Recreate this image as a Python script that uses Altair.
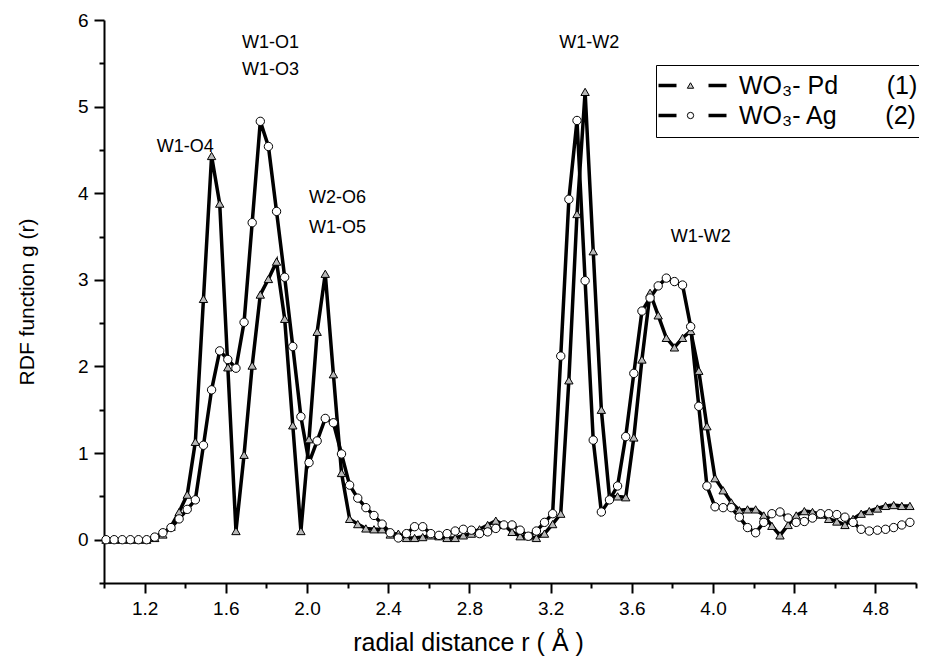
import altair as alt
import pandas as pd

FONT = "Liberation Sans"

r = [1.01, 1.05, 1.09, 1.13, 1.17, 1.21, 1.25, 1.29, 1.33, 1.37,
     1.41, 1.45, 1.49, 1.53, 1.57, 1.61, 1.65, 1.69, 1.73, 1.77,
     1.81, 1.85, 1.89, 1.93, 1.97, 2.01, 2.05, 2.09, 2.13, 2.17,
     2.21, 2.25, 2.29, 2.33, 2.37, 2.41, 2.45, 2.49, 2.53, 2.57,
     2.61, 2.65, 2.69, 2.73, 2.77, 2.81, 2.85, 2.89, 2.93, 2.97,
     3.01, 3.05, 3.09, 3.13, 3.17, 3.21, 3.25, 3.29, 3.33, 3.37,
     3.41, 3.45, 3.49, 3.53, 3.57, 3.61, 3.65, 3.69, 3.73, 3.77,
     3.81, 3.85, 3.89, 3.93, 3.97, 4.01, 4.05, 4.09, 4.13, 4.17,
     4.21, 4.25, 4.29, 4.33, 4.37, 4.41, 4.45, 4.49, 4.53, 4.57,
     4.61, 4.65, 4.69, 4.73, 4.77, 4.81, 4.85, 4.89, 4.93, 4.97]

g_pd = [0, 0, 0, 0, 0, 0, 0.02, 0.06, 0.15, 0.32,
        0.52, 1.13, 2.78, 4.43, 3.88, 1.99, 0.10, 0.98, 2.01, 2.83,
        3.01, 3.21, 2.55, 1.32, 0.10, 1.16, 2.40, 3.07, 1.91, 0.77,
        0.24, 0.18, 0.13, 0.12, 0.12, 0.06, 0.07, 0.02, 0.02, 0.03,
        0.05, 0.04, 0.02, 0.02, 0.05, 0.07, 0.12, 0.17, 0.22, 0.17,
        0.09, 0.04, 0.04, 0.02, 0.07, 0.18, 0.30, 1.84, 3.76, 5.17,
        3.33, 1.50, 0.49, 0.50, 0.49, 1.18, 2.08, 2.85, 2.59, 2.33,
        2.22, 2.33, 2.41, 1.95, 1.31, 0.71, 0.57, 0.43, 0.34, 0.35,
        0.35, 0.28, 0.16, 0.05, 0.17, 0.28, 0.33, 0.32, 0.29, 0.24,
        0.21, 0.17, 0.24, 0.30, 0.33, 0.36, 0.39, 0.40, 0.39, 0.39]

g_ag = [0, 0, 0, 0, 0, 0, 0.03, 0.08, 0.14, 0.24,
        0.35, 0.46, 1.09, 1.73, 2.18, 2.08, 1.98, 2.51, 3.66, 4.83,
        4.54, 3.79, 3.03, 2.23, 1.42, 0.89, 1.14, 1.40, 1.35, 0.99,
        0.63, 0.48, 0.37, 0.28, 0.18, 0.08, 0.02, 0.07, 0.15, 0.15,
        0.07, 0.05, 0.07, 0.10, 0.12, 0.11, 0.07, 0.09, 0.13, 0.17,
        0.17, 0.11, 0.04, 0.10, 0.20, 0.30, 2.12, 3.93, 4.84, 2.99,
        1.15, 0.32, 0.46, 0.62, 1.19, 1.92, 2.64, 2.79, 2.93, 3.02,
        2.98, 2.94, 2.46, 1.54, 0.62, 0.38, 0.37, 0.37, 0.26, 0.14,
        0.08, 0.20, 0.30, 0.32, 0.25, 0.20, 0.21, 0.25, 0.30, 0.30,
        0.29, 0.26, 0.20, 0.12, 0.10, 0.11, 0.12, 0.14, 0.17, 0.20]

NB = "\u00a0"
LAB_PD = "WO\u2083- Pd" + NB * 7 + "(1)" + NB * 3
LAB_AG = "WO\u2083- Ag" + NB * 7 + "(2)" + NB * 3
series = [LAB_PD, LAB_AG]
marker_keys = ["Pd", "Ag"]
legend_marker_keys = ["Pd marker", "Ag marker"]

x_ticks = [1.0, 1.2, 1.4, 1.6, 1.8, 2.0, 2.2, 2.4, 2.6, 2.8, 3.0,
           3.2, 3.4, 3.6, 3.8, 4.0, 4.2, 4.4, 4.6, 4.8, 5.0]
y_ticks = [-0.5, 0, 0.5, 1, 1.5, 2, 2.5, 3, 3.5, 4, 4.5, 5, 5.5, 6]

ann_text = ["W1-O4", "W1-O1", "W1-O3", "W2-O6", "W1-O5", "W1-W2", "W1-W2"]
ann_x = [1.40, 1.82, 1.82, 2.15, 2.15, 3.39, 3.94]
ann_y = [4.53, 5.73, 5.42, 3.94, 3.60, 5.73, 3.49]

df = pd.DataFrame({
    "r": r + r,
    "g": g_pd + g_ag,
    "s1": [series[0]] * len(r) + [series[1]] * len(r),
    "s2": [marker_keys[0]] * len(r) + [marker_keys[1]] * len(r),
    "s3": [legend_marker_keys[0]] * len(r) + [legend_marker_keys[1]] * len(r),
})
ann = pd.DataFrame({"x": ann_x, "y": ann_y, "t": ann_text})

major_x = "abs((datum.value - 1.2) / 0.4 - round((datum.value - 1.2) / 0.4)) < 0.01"
major_y = "abs(datum.value - round(datum.value)) < 0.01"

x_enc = alt.X("r:Q", scale=alt.Scale(domain=[1, 5], nice=False, zero=False),
              axis=alt.Axis(values=x_ticks, grid=False, domainColor="black", domainWidth=2,
                            tickColor="black", tickWidth=2,
                            tickSize={"condition": {"test": major_x, "value": 10}, "value": 5},
                            labelExpr=f"{major_x} ? format(datum.value, '.1f') : ''",
                            labelFont=FONT, labelFontSize=19, labelColor="black",
                            labelPadding=6, labelOverlap=False, labelFlush=False,
                            title="radial distance  r ( \u00c5 )", titleFont=FONT,
                            titleFontSize=25, titleFontWeight="normal", titleColor="black",
                            titleX=364, titleY=59, titleBaseline="middle", titleAlign="center"))
y_enc = alt.Y("g:Q", scale=alt.Scale(domain=[-0.5, 6], nice=False, zero=False),
              axis=alt.Axis(values=y_ticks, grid=False, domainColor="black", domainWidth=2,
                            tickColor="black", tickWidth=2,
                            tickSize={"condition": {"test": major_y, "value": 10}, "value": 5},
                            labelExpr=f"{major_y} ? format(datum.value, 'd') : ''",
                            labelFont=FONT, labelFontSize=19, labelColor="black",
                            labelPadding=6, labelOverlap=False, labelFlush=False,
                            title="RDF function g (r)", titleFont=FONT, titleFontSize=21,
                            titleFontWeight="normal", titleColor="black",
                            titleX=-77, titleY=281.5, titleAngle=270,
                            titleBaseline="middle", titleAlign="center"))

# legend with the line dashes and the labels
legA = alt.Legend(title=None, orient="none", legendX=552, legendY=45, direction="vertical",
                  symbolType="M-3.4,0H-1.6M1.6,0H3.4", symbolSize=400, symbolStrokeWidth=3.5,
                  symbolStrokeColor="black", symbolOffset=16, labelOffset=34,
                  labelFont=FONT, labelFontSize=25, labelColor="black", labelLimit=500,
                  strokeColor="black", padding=8, rowPadding=4)
# legend with only the markers, laid over the gap between the dashes
legB = alt.Legend(title=None, orient="none", legendX=566, legendY=45, direction="vertical",
                  symbolSize=40, symbolStrokeWidth=1,
                  labelExpr="''", labelFont=FONT, labelFontSize=25, labelLimit=500,
                  padding=8, rowPadding=4)

base = alt.Chart(df)
lines = base.mark_line(strokeWidth=3.5).encode(
    x=x_enc, y=y_enc, detail="s1:N",
    stroke=alt.Stroke("s1:N", scale=alt.Scale(domain=series, range=["black", "black"]), legend=legA),
)
points = base.mark_point(filled=True, stroke="black", strokeWidth=1, size=70, opacity=1).encode(
    x=x_enc, y=y_enc,
    shape=alt.Shape("s2:N", scale=alt.Scale(domain=marker_keys, range=["triangle-up", "circle"]), legend=None),
    fill=alt.Fill("s2:N", scale=alt.Scale(domain=marker_keys, range=["#b8b8b8", "white"]), legend=None),
)
legend_layer = base.transform_filter("false").mark_point(
    filled=True, strokeWidth=1, size=40, opacity=1).encode(
    x=x_enc, y=y_enc,
    shape=alt.Shape("s3:N", scale=alt.Scale(domain=legend_marker_keys, range=["triangle-up", "circle"]), legend=legB),
    fill=alt.Fill("s3:N", scale=alt.Scale(domain=legend_marker_keys, range=["#c8c8c8", "white"]), legend=legB),
    stroke=alt.Stroke("s3:N", scale=alt.Scale(domain=legend_marker_keys, range=["black", "black"]), legend=legB),
)
labels = alt.Chart(ann).mark_text(font=FONT, fontSize=18, color="black").encode(
    x=alt.X("x:Q"), y=alt.Y("y:Q"), text="t:N")

chart = alt.layer(lines, points, legend_layer, labels).resolve_scale(
    shape="independent", fill="independent", stroke="independent"
).properties(
    width=812, height=563,
    autosize=alt.AutoSizeParams(type="none"),
    padding={"left": 96, "top": 12, "right": 3, "bottom": 75},
).configure_view(stroke=None)

chart.save("out.html", embed_options={"renderer": "svg", "actions": False})
